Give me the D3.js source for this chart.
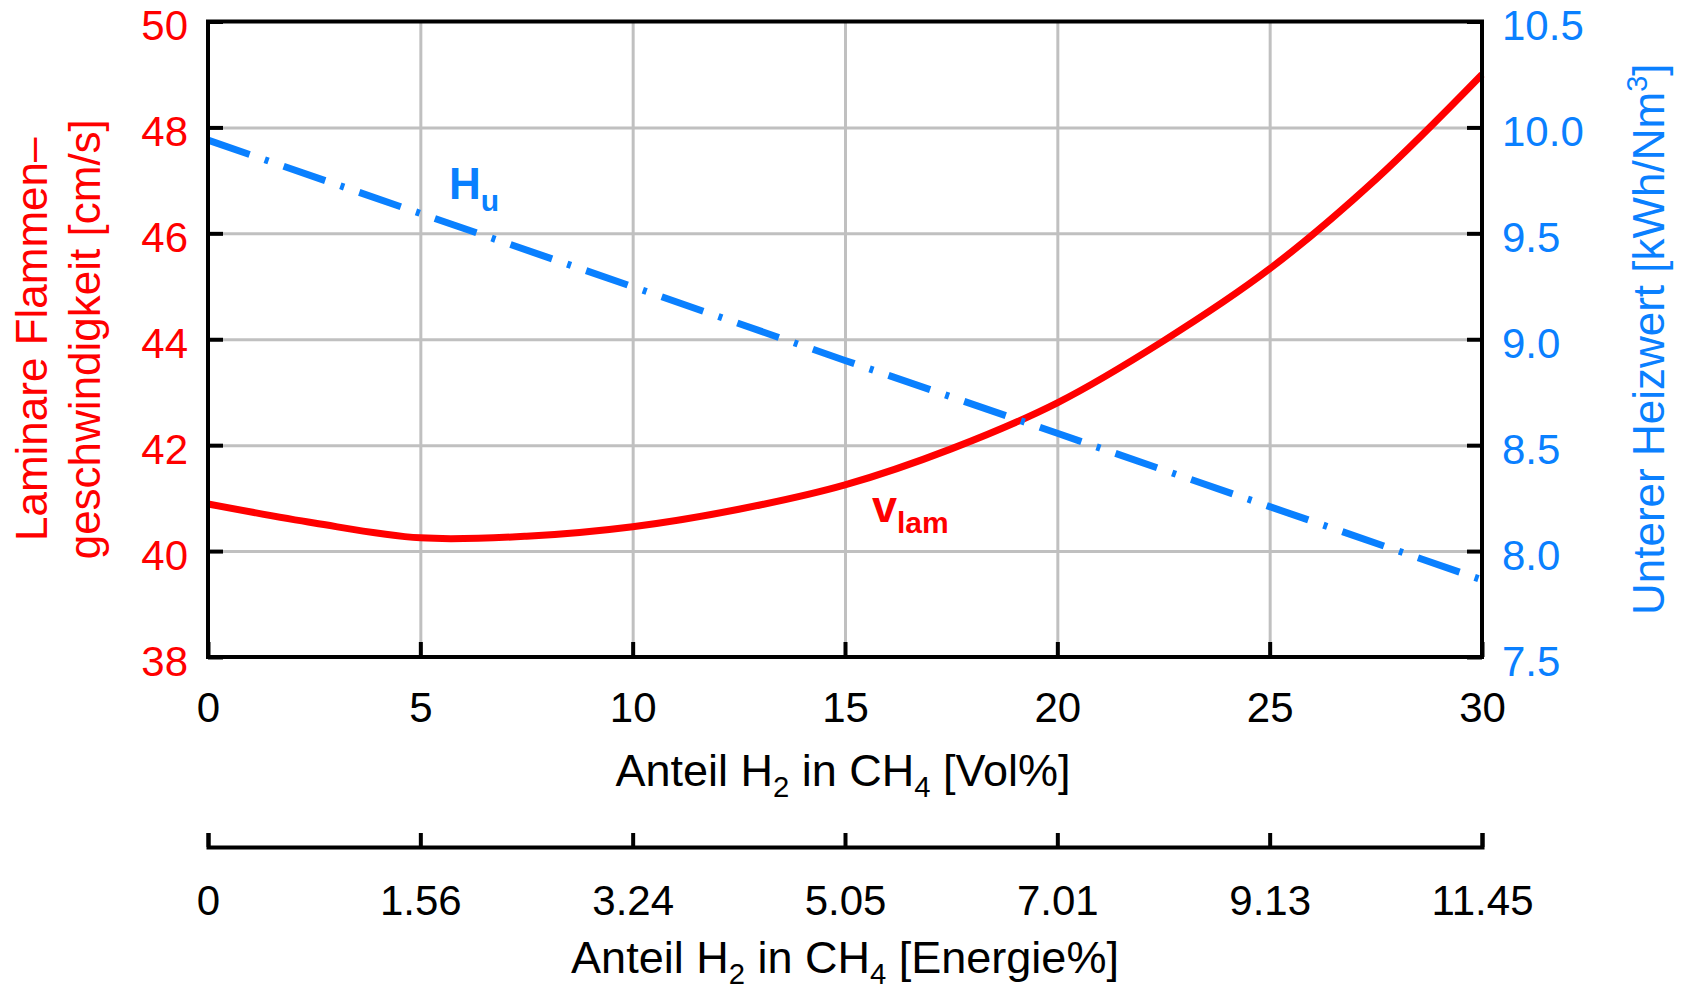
<!DOCTYPE html>
<html>
<head>
<meta charset="utf-8">
<script src="https://cdn.jsdelivr.net/npm/d3@7"></script>
<style>
  body { margin: 0; background: #fff; }
  text { font-family: "Liberation Sans", Arial, sans-serif; }
</style>
</head>
<body>
<script>
// data
var volPct = [0, 2.5, 5, 7.5, 10, 12.5, 15, 17.5, 20, 22.5, 25, 27.5, 30];
var vLam = [40.89, 40.53, 40.25, 40.28, 40.46, 40.79, 41.25, 41.93, 42.80, 43.97, 45.33, 47.02, 49.0];

var huVol = [0, 5, 10, 15, 20, 25, 30];
var huVal = [9.94, 9.594, 9.248, 8.90, 8.556, 8.21, 7.864];

var volTicks = [0, 5, 10, 15, 20, 25, 30];
var energieLabels = ["0", "1.56", "3.24", "5.05", "7.01", "9.13", "11.45"];
var leftTicks = [38, 40, 42, 44, 46, 48, 50];
var rightTicks = [7.5, 8.0, 8.5, 9.0, 9.5, 10.0, 10.5];

var red = "#ff0000", blue = "#0a80ff";

var W = 1689, H = 989;
// plot box (note: "top" is reserved on window, so use p-prefixed names)
var pLeft = 208, pRight = 1482, pTop = 21.5, pBottom = 657;

var svg = d3.select("body").append("svg")
  .attr("width", W)
  .attr("height", H);

var x = d3.scaleLinear().domain([0, 30]).range([pLeft, pRight]);
var yL = d3.scaleLinear().domain([38, 50]).range([pBottom, pTop]);
var yR = d3.scaleLinear().domain([7.5, 10.5]).range([pBottom, pTop]);

// grid
var grid = svg.append("g");
grid.append("g")
  .attr("transform", "translate(0," + pBottom + ")")
  .call(d3.axisBottom(x).tickValues([5, 10, 15, 20, 25]).tickSize(-(pBottom - pTop)).tickFormat(""));
grid.append("g")
  .attr("transform", "translate(" + pLeft + ",0)")
  .call(d3.axisLeft(yL).tickValues([40, 42, 44, 46, 48]).tickSize(-(pRight - pLeft)).tickFormat(""));
grid.selectAll(".domain").remove();
grid.selectAll("line").attr("stroke", "#c0c0c0").attr("stroke-width", 3);

// curves
var vLine = d3.line()
  .x(function(d, i) { return x(volPct[i]); })
  .y(function(d) { return yL(d); })
  .curve(d3.curveCatmullRom.alpha(0.5));

svg.append("path")
  .datum(vLam)
  .attr("d", vLine)
  .attr("fill", "none")
  .attr("stroke", red)
  .attr("stroke-width", 7);

var huLine = d3.line()
  .x(function(d, i) { return x(huVol[i]); })
  .y(function(d) { return yR(d); });

svg.append("path")
  .datum(huVal)
  .attr("d", huLine)
  .attr("fill", "none")
  .attr("stroke", blue)
  .attr("stroke-width", 7)
  .attr("stroke-dasharray", "44,16,4,16");

// frame
svg.append("rect")
  .attr("x", pLeft).attr("y", pTop)
  .attr("width", pRight - pLeft).attr("height", pBottom - pTop)
  .attr("fill", "none")
  .attr("stroke", "#000")
  .attr("stroke-width", 4);

// axes
var gL = svg.append("g")
  .attr("transform", "translate(" + pLeft + ",0)")
  .call(d3.axisLeft(yL).tickValues(leftTicks).tickSize(-15).tickPadding(20).tickFormat(d3.format("d")));
gL.selectAll("text").attr("fill", red).attr("dy", "0.43em");

var gR = svg.append("g")
  .attr("transform", "translate(" + pRight + ",0)")
  .call(d3.axisRight(yR).tickValues(rightTicks).tickSize(-15).tickPadding(20).tickFormat(d3.format(".1f")));
gR.selectAll("text").attr("fill", blue).attr("dy", "0.43em");

var gB = svg.append("g")
  .attr("transform", "translate(0," + pBottom + ")")
  .call(d3.axisBottom(x).tickValues(volTicks).tickSize(-15).tickPadding(35));
gB.selectAll("text").attr("fill", "#000");

var gE = svg.append("g")
  .attr("transform", "translate(0,847)")
  .call(d3.axisBottom(x).tickValues(volTicks).tickSizeOuter(0).tickSize(-14).tickPadding(38)
    .tickFormat(function(d, i) { return energieLabels[i]; }));
gE.selectAll("text").attr("fill", "#000");
gE.select(".domain").attr("stroke", "#000").attr("stroke-width", 4);

[gL, gR, gB].forEach(function(g) { g.select(".domain").remove(); });
[gL, gR, gB, gE].forEach(function(g) {
  g.selectAll(".tick line").attr("stroke", "#000").attr("stroke-width", 4);
  g.selectAll("text").style("font-size", "42px").style("font-family", '"Liberation Sans", Arial, sans-serif');
});

// axis titles
function subTitle(tx, ty, parts, anchor, color, size) {
  var t = svg.append("text")
    .attr("transform", "translate(" + tx + "," + ty + ")")
    .attr("text-anchor", anchor)
    .attr("fill", color)
    .style("font-size", size + "px");
  parts.forEach(function(p) {
    var s = t.append("tspan").text(p[0]);
    if (p[1] == "sub") s.attr("dy", 11).style("font-size", (size * 0.65) + "px");
    else if (p[1] == "back") s.attr("dy", -11);
  });
  return t;
}

subTitle(843, 786, [["Anteil H"], ["2", "sub"], [" in CH", "back"], ["4", "sub"], [" [Vol%]", "back"]], "middle", "#000", 45);
subTitle(845, 973, [["Anteil H"], ["2", "sub"], [" in CH", "back"], ["4", "sub"], [" [Energie%]", "back"]], "middle", "#000", 45);

var midY = (pTop + pBottom) / 2;
svg.append("text")
  .attr("transform", "translate(47," + midY + ") rotate(-90)")
  .attr("text-anchor", "middle")
  .attr("fill", red)
  .style("font-size", "44px")
  .text("Laminare Flammen–");
svg.append("text")
  .attr("transform", "translate(100," + midY + ") rotate(-90)")
  .attr("text-anchor", "middle")
  .attr("fill", red)
  .style("font-size", "44px")
  .text("geschwindigkeit [cm/s]");

var rt = svg.append("text")
  .attr("transform", "translate(1664," + midY + ") rotate(-90)")
  .attr("text-anchor", "middle")
  .attr("fill", blue)
  .style("font-size", "44px");
rt.append("tspan").text("Unterer Heizwert [kWh/Nm");
rt.append("tspan").text("3").attr("dy", -17).style("font-size", "29px");
rt.append("tspan").text("]").attr("dy", 17);

// curve labels
var hu = svg.append("text")
  .attr("x", 449).attr("y", 199)
  .attr("fill", blue)
  .style("font-size", "44px")
  .style("font-weight", "bold");
hu.append("tspan").text("H");
hu.append("tspan").text("u").attr("dy", 12).style("font-size", "30px");

var vl = svg.append("text")
  .attr("x", 872).attr("y", 522)
  .attr("fill", red)
  .style("font-size", "45px")
  .style("font-weight", "bold");
vl.append("tspan").text("v");
vl.append("tspan").text("lam").attr("dy", 11).style("font-size", "30px");
</script>
</body>
</html>
